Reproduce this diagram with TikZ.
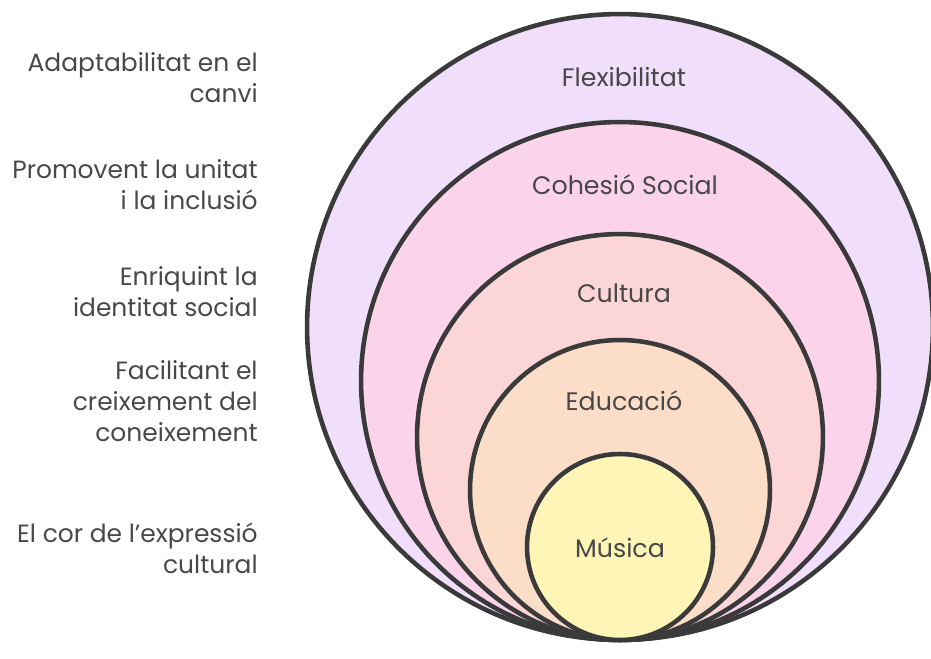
\documentclass[tikz,border=0pt]{standalone}
\usepackage{fontspec}
\setmainfont{Poppins}
\usepackage{tikz}
\usetikzlibrary{positioning}
\definecolor{ringline}{RGB}{58,58,58}
\definecolor{labeltext}{RGB}{72,72,72}
\definecolor{flexpurple}{RGB}{241,222,251}
\definecolor{cohpink}{RGB}{251,212,236}
\definecolor{cultrose}{RGB}{252,214,214}
\definecolor{edupeach}{RGB}{252,221,200}
\definecolor{musyellow}{RGB}{254,245,183}
\tikzstyle{ring} = [circle, draw=ringline, line width=2.6pt, inner sep=0pt]
\tikzstyle{ringlabel} = [font=\fontsize{14.4}{17}\selectfont, text=labeltext]
\tikzstyle{sidenote} = [anchor=east, align=right, inner sep=0pt, font=\fontsize{14.2}{17.6}\selectfont, text=labeltext]

\begin{document}
\begin{tikzpicture}[x=0.02cm, y=-0.02cm]
\useasboundingbox (0,0) rectangle (931,659);
% Nested rings, all touching at the bottom
\node[ring, fill=flexpurple, minimum size=12.52cm] (flex) at (620,327) {};
\node[ring, fill=cohpink, minimum size=10.36cm] (coh) at (620,381) {};
\node[ring, fill=cultrose, minimum size=8.12cm] (cult) at (620,437) {};
\node[ring, fill=edupeach, minimum size=6cm] (edu) at (620,490) {};
\node[ring, fill=musyellow, minimum size=3.72cm] (mus) at (620,547) {};

% Ring titles
\node[ringlabel] (flexlbl) at (624,77) {Flexibilitat};
\node[ringlabel] (cohlbl) at (625,185) {Cohesió Social};
\node[ringlabel] (cultlbl) at (624,293) {Cultura};
\node[ringlabel] (edulbl) at (624,401) {Educació};
\node[ringlabel] (muslbl) at (620,548) {Música};

% Side notes
\node[sidenote] (flexnote) at (258,78) {Adaptabilitat en el\\canvi};
\node[sidenote] (cohnote) at (258,185) {Promovent la unitat\\i la inclusió};
\node[sidenote] (cultnote) at (258,292) {Enriquint la\\identitat social};
\node[sidenote] (edunote) at (258,401) {Facilitant el\\creixement del\\coneixement};
\node[sidenote] (musnote) at (258,548) {El cor de l'expressió\\cultural};
\end{tikzpicture}
\end{document}
